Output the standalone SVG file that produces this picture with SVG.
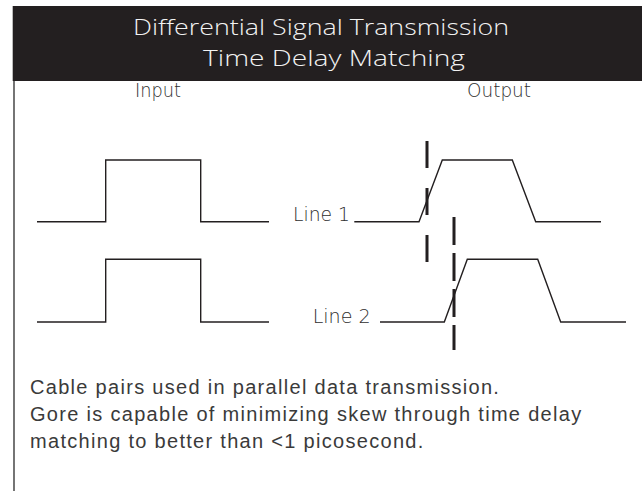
<svg xmlns="http://www.w3.org/2000/svg" width="642" height="491" viewBox="0 0 642 491">
  <style>
    .title { font-family: "Open Sans", "DejaVu Sans", sans-serif; font-weight: 300; font-size: 22px; fill: #f2f2f2; }
    .label { font-family: "DejaVu Sans", "Lato", sans-serif; font-weight: 200; font-size: 19px; fill: #2e2e2e; }
    .body { font-family: "Liberation Sans", Arial, sans-serif; font-size: 20px; letter-spacing: 1.3px; fill: #3a3a3a; }
    .wave { fill: none; stroke: #231f20; stroke-width: 1.4; stroke-linejoin: miter; }
    .skew { stroke: #231f20; stroke-width: 3; stroke-dasharray: 27 20; }
    .skew2 { stroke: #231f20; stroke-width: 3; stroke-dasharray: 28 8; }
  </style>

  <rect x="0" y="0" width="642" height="491" fill="#ffffff"/>

  <!-- header band -->
  <g id="header">
    <rect x="12.7" y="6" width="629.3" height="75" fill="#231f20"/>
    <text class="title" x="133" y="35" textLength="376" lengthAdjust="spacingAndGlyphs">Differential Signal Transmission</text>
    <text class="title" x="203" y="66" textLength="262" lengthAdjust="spacingAndGlyphs">Time Delay Matching</text>
  </g>

  <!-- left frame edge -->
  <line x1="14" y1="81" x2="14" y2="491" stroke="#3a3a3a" stroke-width="1.4"/>

  <g id="input">
    <text class="label" x="135" y="97" textLength="46" lengthAdjust="spacingAndGlyphs">Input</text>
    <polyline class="wave" points="37,221.7 105.7,221.7 105.7,160 200.7,160 200.7,221.7 269,221.7"/>
    <polyline class="wave" points="37,322 105.7,322 105.7,259.3 200.7,259.3 200.7,322 269,322"/>
  </g>

  <g id="output">
    <text class="label" x="467" y="97" textLength="64" lengthAdjust="spacingAndGlyphs">Output</text>
    <polyline class="wave" points="354.3,221.7 419,221.7 442.3,160 512.3,160 535.7,221.7 601,221.7"/>
    <polyline class="wave" points="380,322 444.3,322 467.3,259.3 537.7,259.3 560.7,322 626,322"/>
  </g>

  <g id="line-labels">
    <text class="label" x="293" y="221" textLength="57" lengthAdjust="spacingAndGlyphs">Line 1</text>
    <text class="label" x="312.7" y="323" textLength="58" lengthAdjust="spacingAndGlyphs">Line 2</text>
  </g>

  <!-- skew markers -->
  <g id="connectors">
    <line class="skew" x1="427" y1="141" x2="427" y2="262"/>
    <line class="skew2" x1="454" y1="217" x2="454" y2="350"/>
  </g>

  <g id="caption">
    <text class="body" x="30" y="394">Cable pairs used in parallel data transmission.</text>
    <text class="body" x="30" y="421">Gore is capable of minimizing skew through time delay</text>
    <text class="body" x="30" y="448">matching to better than &lt;1 picosecond.</text>
  </g>
</svg>
